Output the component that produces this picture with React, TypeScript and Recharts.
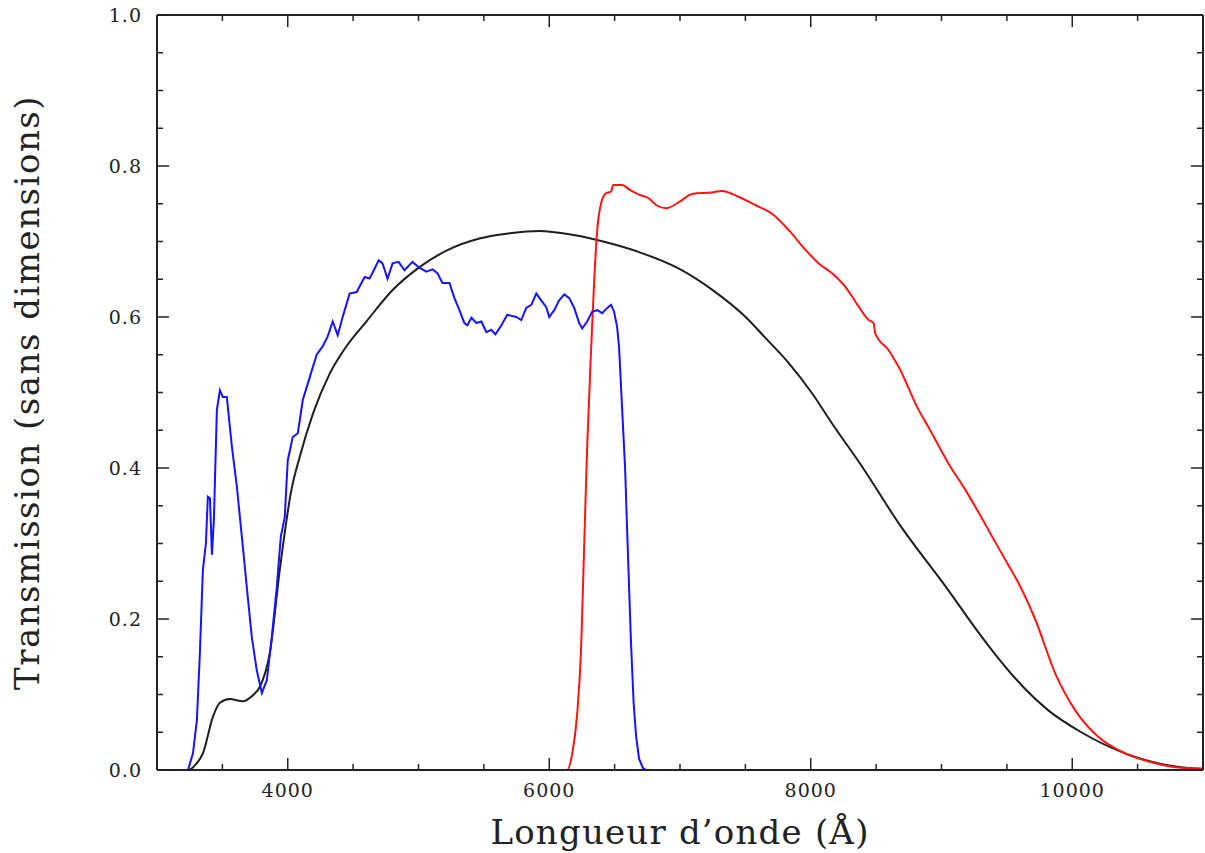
import React from 'react'
import { LineChart, Line, XAxis, YAxis } from 'recharts'

// wavelength (Å) and transmission
const blackWave = [3000, 3240, 3300, 3351, 3427, 3481, 3557, 3657, 3733, 3786, 3863, 3939, 4028, 4092, 4193, 4321, 4448, 4601, 4804, 5008, 5214, 5466, 5700, 5924, 6176, 6435, 6687, 6992, 7247, 7502, 7655, 7832, 8010, 8163, 8392, 8672, 9053, 9250, 9435, 9625, 9817, 10069, 10405, 10710, 11000]
const blackTrans = [0, 0, 0.008, 0.022, 0.07, 0.089, 0.094, 0.091, 0.099, 0.11, 0.155, 0.265, 0.371, 0.415, 0.472, 0.525, 0.561, 0.594, 0.636, 0.666, 0.688, 0.704, 0.711, 0.714, 0.709, 0.699, 0.686, 0.664, 0.636, 0.6, 0.572, 0.539, 0.499, 0.459, 0.402, 0.327, 0.238, 0.19, 0.148, 0.11, 0.079, 0.05, 0.022, 0.007, 0.001]

const blueWave = [3200, 3237, 3275, 3305, 3328, 3351, 3374, 3389, 3405, 3420, 3435, 3458, 3481, 3504, 3534, 3573, 3611, 3649, 3687, 3725, 3763, 3802, 3840, 3878, 3916, 3947, 3977, 4000, 4038, 4077, 4115, 4168, 4221, 4267, 4305, 4344, 4382, 4420, 4473, 4527, 4588, 4626, 4664, 4695, 4725, 4763, 4802, 4847, 4893, 4954, 5008, 5061, 5107, 5145, 5183, 5237, 5275, 5313, 5351, 5374, 5405, 5443, 5481, 5519, 5557, 5588, 5634, 5679, 5748, 5786, 5824, 5863, 5901, 5939, 5977, 6000, 6038, 6076, 6115, 6153, 6191, 6229, 6252, 6290, 6328, 6367, 6405, 6443, 6473, 6496, 6519, 6534, 6557, 6580, 6603, 6625, 6645, 6664, 6687, 6715, 6740, 7500]
const blueTrans = [0, 0, 0.022, 0.066, 0.155, 0.265, 0.3, 0.362, 0.36, 0.285, 0.331, 0.477, 0.503, 0.494, 0.494, 0.428, 0.375, 0.309, 0.242, 0.176, 0.132, 0.102, 0.119, 0.176, 0.242, 0.309, 0.335, 0.41, 0.441, 0.446, 0.49, 0.52, 0.55, 0.561, 0.574, 0.594, 0.576, 0.6, 0.631, 0.633, 0.653, 0.651, 0.664, 0.675, 0.671, 0.651, 0.671, 0.673, 0.662, 0.673, 0.665, 0.66, 0.663, 0.658, 0.645, 0.645, 0.625, 0.609, 0.592, 0.589, 0.599, 0.592, 0.594, 0.58, 0.583, 0.577, 0.589, 0.603, 0.6, 0.596, 0.612, 0.616, 0.631, 0.622, 0.613, 0.6, 0.609, 0.622, 0.63, 0.625, 0.612, 0.592, 0.585, 0.594, 0.607, 0.609, 0.605, 0.612, 0.616, 0.607, 0.587, 0.56, 0.48, 0.4, 0.28, 0.17, 0.09, 0.045, 0.015, 0.003, 0, 0]

const redWave = [6000, 6137, 6176, 6214, 6244, 6267, 6290, 6321, 6344, 6367, 6397, 6435, 6473, 6489, 6557, 6620, 6687, 6763, 6820, 6893, 6992, 7092, 7244, 7321, 7450, 7580, 7702, 7832, 7960, 8061, 8163, 8265, 8366, 8443, 8481, 8494, 8596, 8672, 8825, 8901, 9053, 9183, 9359, 9489, 9588, 9718, 9870, 10023, 10199, 10405, 10634, 10832, 11000]
const redTrans = [0, 0, 0.022, 0.075, 0.163, 0.296, 0.428, 0.56, 0.649, 0.715, 0.751, 0.764, 0.766, 0.775, 0.775, 0.768, 0.762, 0.757, 0.748, 0.744, 0.752, 0.763, 0.765, 0.767, 0.759, 0.748, 0.737, 0.715, 0.689, 0.671, 0.658, 0.64, 0.614, 0.596, 0.592, 0.578, 0.556, 0.534, 0.477, 0.454, 0.406, 0.371, 0.318, 0.278, 0.248, 0.199, 0.128, 0.079, 0.044, 0.022, 0.009, 0.003, 0.002]

const xTicks = [3500, 4000, 4500, 5000, 5500, 6000, 6500, 7000, 7500, 8000, 8500, 9000, 9500, 10000, 10500]
const yTicks = [0, 0.05, 0.1, 0.15, 0.2, 0.25, 0.3, 0.35, 0.4, 0.45, 0.5, 0.55, 0.6, 0.65, 0.7, 0.75, 0.8, 0.85, 0.9, 0.95, 1]

const toPoints = (w: number[], t: number[]) => w.map((wl, i) => ({ wl, t: t[i] }))

const INK = '#222'
const FONT = '"DejaVu Serif", serif'

// ticks point into the frame; long ones every 2000 Å / 0.2
function XTick(props: any) {
  const { x, y, payload, side } = props
  const v = payload.value
  const major = v % 2000 === 0
  const len = major ? 12 : 6
  const dir = side === 'bottom' ? -1 : 1
  return (
    <g>
      <line x1={x} y1={y} x2={x} y2={y + dir * len} stroke={INK} strokeWidth={1.5} />
      {side === 'bottom' && major && (
        <text x={x} y={y + 27} textAnchor="middle" fontFamily={FONT} fontSize={19} letterSpacing={1} fill={INK}>
          {v}
        </text>
      )}
    </g>
  )
}

function YTick(props: any) {
  const { x, y, payload, side } = props
  const v = payload.value
  const major = Math.round(v * 100) % 20 === 0
  const len = major ? 12 : 6
  const dir = side === 'left' ? 1 : -1
  return (
    <g>
      <line x1={x} y1={y} x2={x + dir * len} y2={y} stroke={INK} strokeWidth={1.5} />
      {side === 'left' && major && (
        <text x={x - 15} y={y + 7} textAnchor="end" fontFamily={FONT} fontSize={19} letterSpacing={1} fill={INK}>
          {v.toFixed(1)}
        </text>
      )}
    </g>
  )
}

function YTitle(props: any) {
  const vb = props.viewBox || {}
  const cy = vb.y != null ? vb.y + vb.height / 2 : 392
  const bx = 39
  return (
    <text x={bx} y={cy} transform={`rotate(-90, ${bx}, ${cy})`} textAnchor="middle" fontFamily={FONT} fontSize={34} letterSpacing={1.5} fill={INK}>
      Transmission (sans dimensions)
    </text>
  )
}

function XTitle(props: any) {
  const vb = props.viewBox || {}
  const cx = vb.x != null ? vb.x + vb.width / 2 : 680
  return (
    <text x={cx} y={844} textAnchor="middle" fontFamily={FONT} fontSize={34} letterSpacing={1.2} fill={INK}>
      Longueur d’onde (Å)
    </text>
  )
}

export default function App() {
  return (
    <div style={{ position: 'absolute', left: 0, top: 0, background: '#fff' }}>
      <LineChart width={1205} height={853} margin={{ top: 14, right: 1, bottom: 0, left: 0 }}>
        <XAxis
          dataKey="wl"
          type="number"
          domain={[3000, 11000]}
          allowDataOverflow
          ticks={xTicks}
          interval={0}
          height={83}
          tickSize={0}
          tickMargin={0}
          tickLine={false}
          axisLine={{ stroke: INK, strokeWidth: 2 }}
          tick={(p: any) => <XTick {...p} side="bottom" />}
          label={{ content: (p: any) => <XTitle {...p} /> }}
        />
        <XAxis
          xAxisId="top"
          orientation="top"
          dataKey="wl"
          type="number"
          domain={[3000, 11000]}
          allowDataOverflow
          ticks={xTicks}
          interval={0}
          height={1}
          tickSize={0}
          tickMargin={0}
          tickLine={false}
          axisLine={{ stroke: INK, strokeWidth: 2 }}
          tick={(p: any) => <XTick {...p} side="top" />}
        />
        <YAxis
          type="number"
          domain={[0, 1]}
          allowDataOverflow
          ticks={yTicks}
          interval={0}
          width={157}
          tickSize={0}
          tickMargin={0}
          tickLine={false}
          axisLine={{ stroke: INK, strokeWidth: 2 }}
          tick={(p: any) => <YTick {...p} side="left" />}
          label={{ content: (p: any) => <YTitle {...p} /> }}
        />
        <YAxis
          yAxisId="right"
          orientation="right"
          type="number"
          domain={[0, 1]}
          allowDataOverflow
          ticks={yTicks}
          interval={0}
          width={1}
          tickSize={0}
          tickMargin={0}
          tickLine={false}
          axisLine={{ stroke: INK, strokeWidth: 2 }}
          tick={(p: any) => <YTick {...p} side="right" />}
        />
        <Line data={toPoints(blackWave, blackTrans)} dataKey="t" type="monotone" stroke="#1e1e1e" strokeWidth={2} dot={false} isAnimationActive={false} />
        {/* same scales as the default pair; hooks the top/right frame axes to a series */}
        <Line xAxisId="top" yAxisId="right" data={toPoints(redWave, redTrans)} dataKey="t" type="monotone" stroke="#ff1414" strokeWidth={2} dot={false} isAnimationActive={false} />
        <Line data={toPoints(blueWave, blueTrans)} dataKey="t" type="linear" stroke="#1414ff" strokeWidth={2} dot={false} isAnimationActive={false} />
      </LineChart>
    </div>
  )
}
